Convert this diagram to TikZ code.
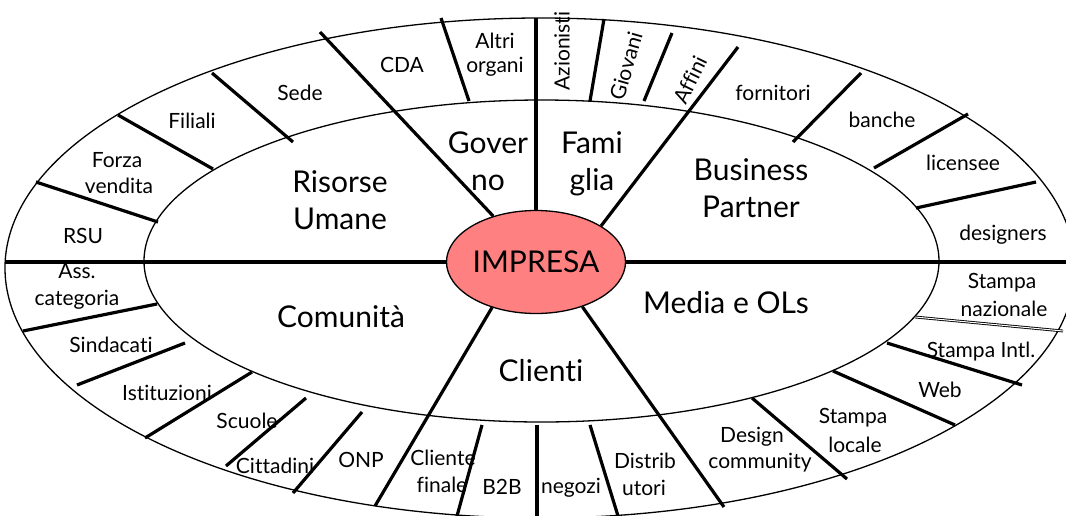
\documentclass[tikz,border=0pt]{standalone}
\usepackage{fontspec}
\setmainfont{Lato}[Ligatures=NoCommon]
\usetikzlibrary{shapes.geometric,backgrounds}
\definecolor{impfill}{RGB}{255,128,128}
\begin{document}
\begin{tikzpicture}[x=1pt,y=-1pt,
  ring/.style={line width=1.3pt},
  spoke/.style={line width=3.2pt},
  sep/.style={line width=3.2pt},
  thinsep/.style={double, double distance=1pt, line width=0.9pt},
  big/.style={font=\fontsize{30}{36}\selectfont, anchor=base, inner sep=0pt},
  sm/.style={font=\fontsize{21}{25}\selectfont, anchor=base, inner sep=0pt},
  rot/.style={font=\fontsize{21}{25}\selectfont, anchor=center, inner sep=0pt},
]
\useasboundingbox (0,0) rectangle (1066,515);
% central company node
\node[draw, ellipse, fill=impfill, line width=1.3pt, minimum width=160pt,
      minimum height=103pt, inner sep=0pt, font=\fontsize{30}{36}\selectfont]
      (imp) at (536,262) {IMPRESA};

% outer end points of the main spokes
\coordinate (eW)  at (5,262);
\coordinate (eE)  at (1075,262);
\coordinate (eN)  at (536,18);
\coordinate (eNW) at (320,32);
\coordinate (eNE) at (738,47);
\coordinate (eSW) at (375,506);
\coordinate (eSE) at (724,507);

\begin{scope}[on background layer]
  \fill[white] (0,0) rectangle (1066,515);
  \clip (0,0) rectangle (1066,515);
  % outer and inner rings
  \draw[ring] (540,268) ellipse [x radius=535pt, y radius=250pt];
  \draw[ring] (541.5,261) ellipse [x radius=397.5pt, y radius=161pt];
  % main spokes
  \draw[spoke] (imp.180) -- (eW);
  \draw[spoke] (imp.0) -- (eE);
  \draw[spoke] (imp.90) -- (eN);
  \draw[spoke] (imp.133) -- (eNW);
  \draw[spoke] (imp.29) -- (eNE);
  \draw[spoke] (imp.226.6) -- (eSW);
  \draw[spoke] (imp.316) -- (eSE);
  % dividers of the outer ring
  \draw[sep] (36,182) -- (158,222);
  \draw[sep] (118,115) -- (213,169);
  \draw[sep] (212,73) -- (293,142);
  \draw[sep] (441,18) -- (469,101);
  \draw[sep] (604,19) -- (590,101);
  \draw[sep] (672,33) -- (644,101);
  \draw[sep] (861,73) -- (793,142);
  \draw[sep] (968,114) -- (874,168);
  \draw[sep] (1036,182) -- (916,208);
  \draw[thinsep] (915,317) -- (1063,331);
  \draw[sep] (887,343) -- (1022,385);
  \draw[sep] (833,371) -- (955,425);
  \draw[sep] (752,398) -- (847,479);
  \draw[sep] (590,425) -- (618,516);
  \draw[sep] (537,425) -- (537,516);
  \draw[sep] (482,425) -- (457,516);
  \draw[sep] (362,412) -- (293,493);
  \draw[sep] (306,398) -- (226,466);
  \draw[sep] (252,372) -- (145,438);
  \draw[sep] (185,343) -- (77,385);
  \draw[sep] (157,304) -- (23,331);
\end{scope}

% sector names
\node[big] (ris1) at (340,192) {Risorse};
\node[big] (ris2) at (340,229) {Umane};
\node[big] (gov1) at (488,153) {Gover};
\node[big] (gov2) at (488,190) {no};
\node[big] (fam1) at (592,153) {Fami};
\node[big] (fam2) at (592,190) {glia};
\node[big] (bp1)  at (751,180) {Business};
\node[big] (bp2)  at (751,217) {Partner};
\node[big] (com)  at (341,327) {Comunità};
\node[big] (med)  at (726,313) {Media e OLs};
\node[big] (cli)  at (541,381) {Clienti};

% outer ring labels
\node[sm] (rsu)   at (83,243)  {RSU};
\node[sm] (fv1)   at (117,167) {Forza};
\node[sm] (fv2)   at (119,193) {vendita};
\node[sm] (fil)   at (192,128) {Filiali};
\node[sm] (sede)  at (300,100) {Sede};
\node[sm] (cda)   at (402,72)  {CDA};
\node[sm] (ao1)   at (495,48)  {Altri};
\node[sm] (ao2)   at (495,72)  {organi};
\node[rot, rotate=90] (azi) at (562,51) {Azionisti};
\node[rot, rotate=74] (gio) at (626,66) {Giovani};
\node[rot, rotate=64] (aff) at (690,80) {Affini};
\node[sm] (forn)  at (773,100) {fornitori};
\node[sm] (banc)  at (882,127) {banche};
\node[sm] (lic)   at (963,170) {licensee};
\node[sm] (des)   at (1003,240) {designers};
\node[sm] (sn1)   at (1002,288) {Stampa};
\node[sm] (sn2)   at (1004,316) {nazionale};
\node[sm] (si)    at (981,357) {Stampa Intl.};
\node[sm] (web)   at (940,397) {Web};
\node[sm] (sl1)   at (853,423) {Stampa};
\node[sm] (sl2)   at (855,452) {locale};
\node[sm] (dc1)   at (752,442) {Design};
\node[sm] (dc2)   at (760,468) {community};
\node[sm] (dis1)  at (645,468) {Distrib};
\node[sm] (dis2)  at (644,495) {utori};
\node[sm] (neg)   at (571,493) {negozi};
\node[sm] (b2b)   at (502,494) {B2B};
\node[sm] (cf1)   at (443,465) {Cliente};
\node[sm] (cf2)   at (442,492) {finale};
\node[sm] (onp)   at (361,467) {ONP};
\node[sm] (ass1)  at (77,278)  {Ass.};
\node[sm] (ass2)  at (77,305)  {categoria};
\node[sm] (sin)   at (111,352) {Sindacati};
\node[sm] (ist)   at (167,400) {Istituzioni};
\node[sm] (scu)   at (247,428) {Scuole};
\node[sm] (cit)   at (275,473) {Cittadini};
\end{tikzpicture}
\end{document}
